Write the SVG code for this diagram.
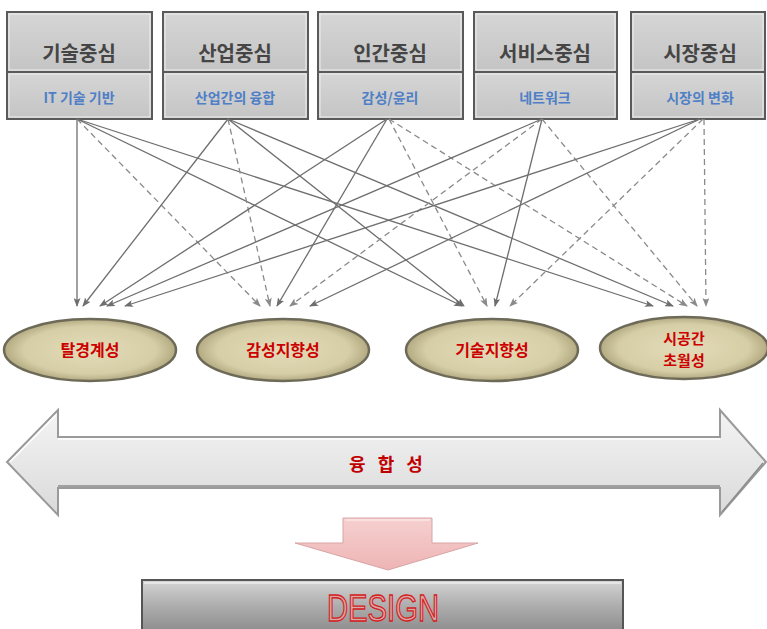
<svg xmlns="http://www.w3.org/2000/svg" width="767" height="629" viewBox="0 0 767 629">
<defs>
<style>
.top{fill:url(#gTop);stroke:#5a5a5a;stroke-width:2}
.hl{fill:none;stroke:#eeeeee;stroke-width:1}
.t1{font-family:"Noto Sans CJK KR","Noto Sans",sans-serif;font-size:20px;font-weight:bold;fill:#454545;text-anchor:middle}
.t2{font-family:"Noto Sans CJK KR","Noto Sans",sans-serif;font-size:14px;font-weight:bold;fill:#4f7fc6;text-anchor:middle}
.ln{stroke:#6e6e6e;stroke-width:1.3;fill:none;marker-end:url(#ah)}
.dl{stroke:#8a8a8a;stroke-width:1.3;fill:none;stroke-dasharray:6 4;marker-end:url(#ah2)}
.ell{fill:url(#gEll);stroke:#6e6a58;stroke-width:2.5}
.et{font-family:"Noto Sans CJK KR","Noto Sans",sans-serif;font-size:16px;font-weight:bold;fill:#cc0000;text-anchor:middle}
.et2{font-family:"Noto Sans CJK KR","Noto Sans",sans-serif;font-size:15px;font-weight:bold;fill:#cc0000;text-anchor:middle}
</style>
<linearGradient id="gTop" x1="0" y1="0" x2="0" y2="1">
<stop offset="0" stop-color="#d6d6d6"/><stop offset="1" stop-color="#c4c4c4"/>
</linearGradient>
<radialGradient id="gEll" cx="0.5" cy="0.5" r="0.55">
<stop offset="0" stop-color="#e3dcb9"/><stop offset="0.7" stop-color="#d6cea6"/><stop offset="1" stop-color="#a39a72"/>
</radialGradient>
<linearGradient id="gArr" x1="0" y1="0" x2="0" y2="1">
<stop offset="0" stop-color="#f4f4f4"/><stop offset="1" stop-color="#dadada"/>
</linearGradient>
<linearGradient id="gPink" x1="0" y1="0" x2="0" y2="1">
<stop offset="0" stop-color="#f6d0d0"/><stop offset="1" stop-color="#eeb4b4"/>
</linearGradient>
<linearGradient id="gDes" x1="0" y1="0" x2="0" y2="1">
<stop offset="0" stop-color="#d4d4d4"/><stop offset="0.5" stop-color="#acacac"/><stop offset="1" stop-color="#8a8a8a"/>
</linearGradient>
<marker id="ah" markerWidth="9" markerHeight="7" refX="8" refY="3.5" orient="auto" markerUnits="userSpaceOnUse">
<path d="M0,0 L9,3.5 L0,7 L2,3.5 Z" fill="#6e6e6e"/>
</marker>
<marker id="ah2" markerWidth="9" markerHeight="7" refX="8" refY="3.5" orient="auto" markerUnits="userSpaceOnUse">
<path d="M0,0 L9,3.5 L0,7 L2,3.5 Z" fill="#8a8a8a"/>
</marker>
</defs>
<rect width="767" height="629" fill="#ffffff"/>

<g id="box1">
<rect class="top" x="7" y="12" width="145" height="60"/><rect class="hl" x="9" y="14" width="141" height="56"/>
<rect class="top" x="7" y="72" width="145" height="47"/><rect class="hl" x="9" y="74" width="141" height="43"/>
<text class="t1" x="79" y="61">기술중심</text><text class="t2" x="79" y="103">IT 기술 기반</text>
</g>
<g id="box2">
<rect class="top" x="163" y="12" width="145" height="60"/><rect class="hl" x="165" y="14" width="141" height="56"/>
<rect class="top" x="163" y="72" width="145" height="47"/><rect class="hl" x="165" y="74" width="141" height="43"/>
<text class="t1" x="235" y="61">산업중심</text><text class="t2" x="235" y="103">산업간의 융합</text>
</g>
<g id="box3">
<rect class="top" x="318" y="12" width="145" height="60"/><rect class="hl" x="320" y="14" width="141" height="56"/>
<rect class="top" x="318" y="72" width="145" height="47"/><rect class="hl" x="320" y="74" width="141" height="43"/>
<text class="t1" x="390" y="61">인간중심</text><text class="t2" x="390" y="103">감성/윤리</text>
</g>
<g id="box4">
<rect class="top" x="474" y="12" width="143" height="60"/><rect class="hl" x="476" y="14" width="139" height="56"/>
<rect class="top" x="474" y="72" width="143" height="47"/><rect class="hl" x="476" y="74" width="139" height="43"/>
<text class="t1" x="545" y="61">서비스중심</text><text class="t2" x="545" y="103">네트워크</text>
</g>
<g id="box5">
<rect class="top" x="631" y="12" width="134" height="60"/><rect class="hl" x="633" y="14" width="130" height="56"/>
<rect class="top" x="631" y="72" width="134" height="47"/><rect class="hl" x="633" y="74" width="130" height="43"/>
<text class="t1" x="700" y="61">시장중심</text><text class="t2" x="700" y="103">시장의 변화</text>
</g>

<g id="connectors">
<line class="ln" x1="77" y1="119" x2="77" y2="306"/>
<line class="dl" x1="77" y1="119" x2="260" y2="306"/>
<line class="ln" x1="77" y1="119" x2="462" y2="306"/>
<line class="ln" x1="77" y1="119" x2="653" y2="306"/>
<line class="ln" x1="228" y1="119" x2="83" y2="306"/>
<line class="dl" x1="228" y1="119" x2="270" y2="306"/>
<line class="ln" x1="228" y1="119" x2="464" y2="306"/>
<line class="ln" x1="228" y1="119" x2="673" y2="306"/>
<line class="ln" x1="387" y1="119" x2="100" y2="306"/>
<line class="ln" x1="387" y1="119" x2="277" y2="306"/>
<line class="dl" x1="389" y1="119" x2="487" y2="306"/>
<line class="dl" x1="389" y1="119" x2="687" y2="306"/>
<line class="ln" x1="542" y1="119" x2="107" y2="306"/>
<line class="dl" x1="542" y1="119" x2="290" y2="306"/>
<line class="ln" x1="542" y1="119" x2="495" y2="306"/>
<line class="dl" x1="542" y1="119" x2="697" y2="306"/>
<line class="ln" x1="700" y1="119" x2="125" y2="306"/>
<line class="ln" x1="700" y1="119" x2="310" y2="306"/>
<line class="dl" x1="703" y1="119" x2="510" y2="306"/>
<line class="dl" x1="704" y1="119" x2="706" y2="306"/>
</g>

<g id="e1"><ellipse class="ell" cx="90" cy="350" rx="86" ry="31"/><text class="et" x="90" y="356">탈경계성</text></g>
<g id="e2"><ellipse class="ell" cx="283" cy="350" rx="86" ry="31"/><text class="et" x="283" y="356">감성지향성</text></g>
<g id="e3"><ellipse class="ell" cx="492" cy="350" rx="86" ry="31"/><text class="et" x="492" y="356">기술지향성</text></g>
<g id="e4"><ellipse class="ell" cx="684" cy="348" rx="84" ry="31"/><text class="et2" x="684" y="344">시공간</text><text class="et2" x="684" y="366">초월성</text></g>

<g id="fusion">
<path d="M7,462 L58,410 L58,437 L720,437 L720,410 L766,462 L720,515 L720,488 L58,488 L58,515 Z" fill="url(#gArr)" stroke="#9a9a9a" stroke-width="2"/>
<path d="M10,462 L56,415 M58,439 L720,439" stroke="#ffffff" stroke-width="1.5" fill="none"/>
<path d="M58,486 L720,486 M722,512 L763,463" stroke="#8c8c8c" stroke-width="1.5" fill="none"/>
<text x="388" y="471" font-family="'Noto Sans CJK KR','Noto Sans',sans-serif" font-size="18" font-weight="bold" fill="#c00000" text-anchor="middle" letter-spacing="4">융 합 성</text>
</g>

<g id="down">
<path d="M343,518 L432,518 L432,543 L478,543 L388,570 L295,543 L343,543 Z" fill="url(#gPink)" stroke="#d8a4a4" stroke-width="1"/>
<path d="M345,520 L430,520" stroke="#fbe6e6" stroke-width="1.5"/>
</g>

<g id="design">
<rect x="142" y="580" width="481" height="54" fill="url(#gDes)" stroke="#555555" stroke-width="2"/>
<path d="M144,583 L621,583" stroke="#ececec" stroke-width="1.5"/>
<text x="383" y="621" font-family="'Liberation Sans',sans-serif" font-size="36" textLength="112" lengthAdjust="spacingAndGlyphs" fill="#d9a8a8" stroke="#d42020" stroke-width="1.3" text-anchor="middle">DESIGN</text>
</g>
</svg>
